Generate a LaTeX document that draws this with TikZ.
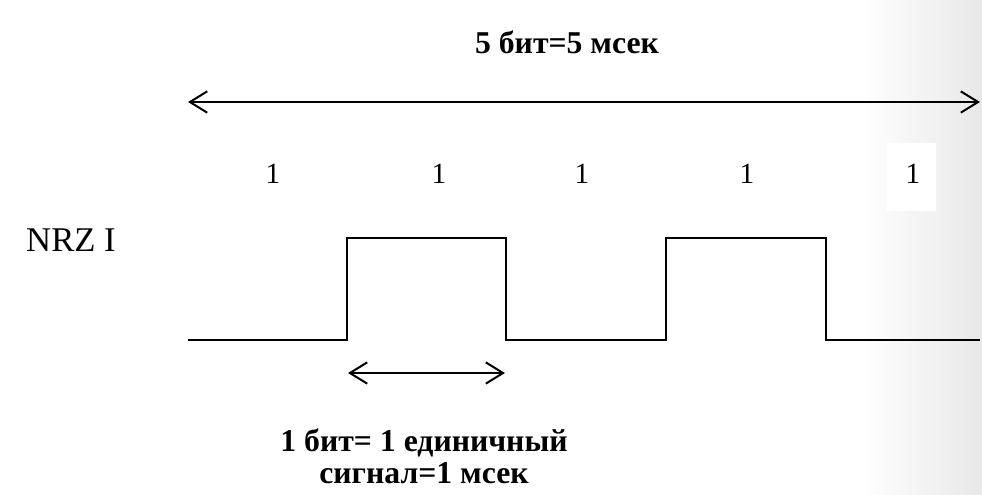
\documentclass[tikz,border=0pt]{standalone}
\usepackage{fontspec}
\setmainfont{Liberation Serif}
\usetikzlibrary{arrows.meta}

\tikzset{
  signal/.style={line width=1.5},
  span/.style={line width=1.5, {Straight Barb[length=13pt,width=16pt,line width=1.5]}-{Straight Barb[length=13pt,width=16pt,line width=1.5]}},
  bitlabel/.style={font=\fontsize{22}{26}\selectfont},
  boldlabel/.style={font=\fontsize{23.8}{24}\selectfont\bfseries, align=center}
}

\begin{document}
\begin{tikzpicture}[x=0.75pt,y=0.75pt,yscale=-1,xscale=1]
\useasboundingbox (0,0) rectangle (982,494);

%Shape: Rectangle (slide shading)
\shade [left color=white, right color=black!9] (860,0) rectangle (982,494);
%Shape: Rectangle (box behind last bit)
\fill [white] (886,143) rectangle (936,211);

% Text Node
\node [boldlabel] (total) at (567,42) {5 бит=5 мсек};
% Coordinates of the long arrow
\coordinate (totalL) at (188,102);
\coordinate (totalR) at (980,102);
%Straight Lines
\draw [span] (totalL) -- (totalR);

% Text Nodes: bit values
\node [bitlabel] (b1) at (273,174) {1};
\node [bitlabel] (b2) at (439,174) {1};
\node [bitlabel] (b3) at (582,174) {1};
\node [bitlabel] (b4) at (747,174) {1};
\node [bitlabel] (b5) at (913,174) {1};

% Text Node
\node [font=\fontsize{26}{30}\selectfont] (code) at (71,240) {NRZ I};

% Coordinates of the signal
\coordinate (s0) at (188,340);
\coordinate (s1) at (347,340);
\coordinate (s2) at (347,238);
\coordinate (s3) at (506,238);
\coordinate (s4) at (506,340);
\coordinate (s5) at (666,340);
\coordinate (s6) at (666,238);
\coordinate (s7) at (826,238);
\coordinate (s8) at (826,340);
\coordinate (s9) at (980,340);
%Straight Lines
\draw [signal] (s0) -- (s1) -- (s2) -- (s3) -- (s4) -- (s5) -- (s6) -- (s7) -- (s8) -- (s9);

% Coordinates of the short arrow
\coordinate (oneL) at (348,373);
\coordinate (oneR) at (505,373);
%Straight Lines
\draw [span] (oneL) -- (oneR);

% Text Node
\node [boldlabel] (onebit) at (424,456) {1 бит= 1 единичный\\сигнал=1 мсек};

\end{tikzpicture}
\end{document}
